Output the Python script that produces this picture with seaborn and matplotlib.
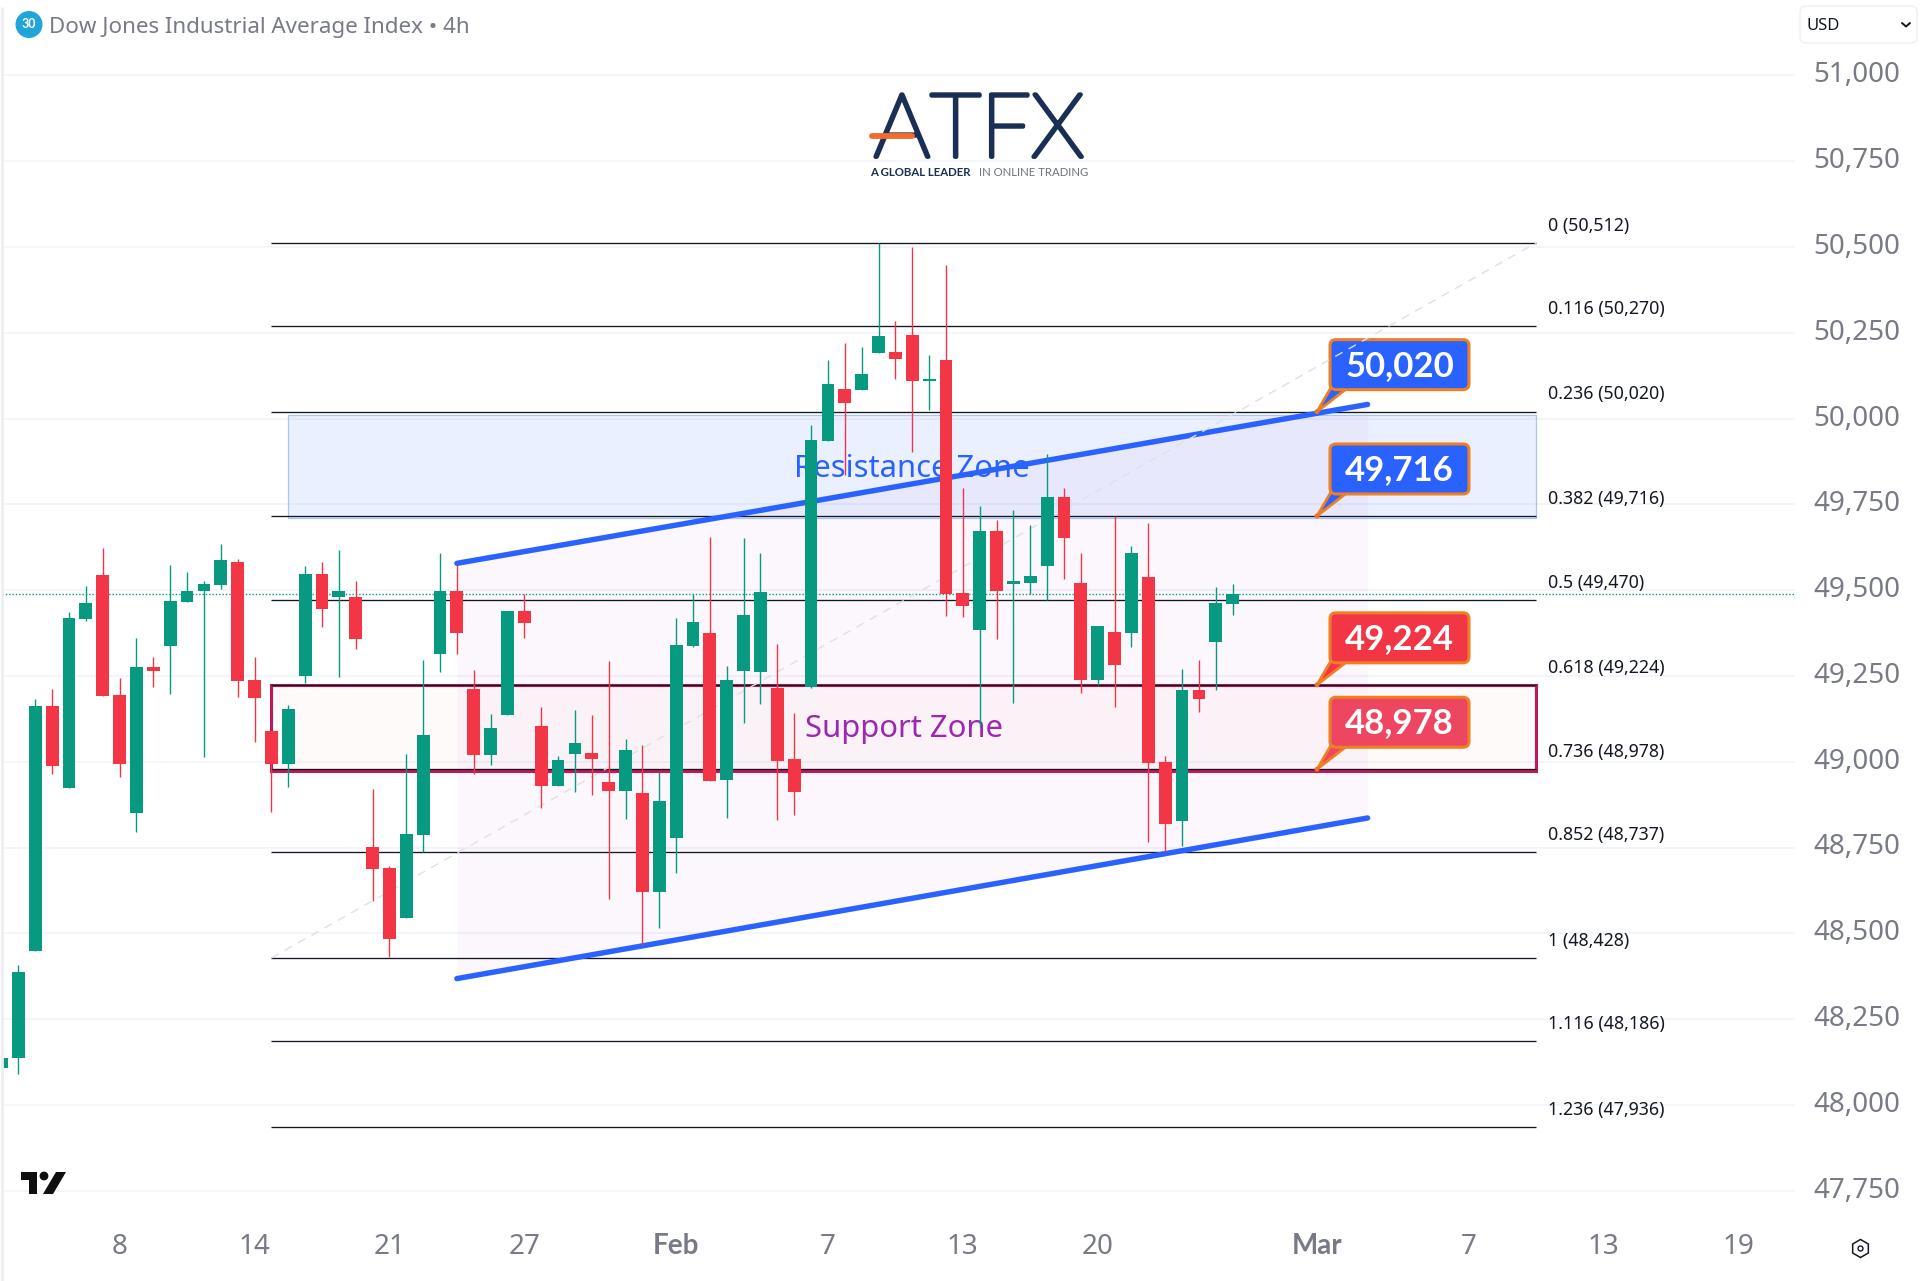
import numpy as np
import pandas as pd
import matplotlib
matplotlib.use("Agg")
import matplotlib.pyplot as plt
import matplotlib.patheffects as pe
import seaborn as sns
from matplotlib.patches import FancyBboxPatch, Polygon, Circle, Rectangle
from matplotlib.lines import Line2D
from matplotlib.transforms import IdentityTransform, Affine2D

# ---------- data ----------
opens = [48107,48136,48449,49162,48924,49416,49544,49194,48850,49276,49337,49465,49497,49515,49582,49238,49089,48993,
         49250,49547,49480,49480,48751,48690,48545,48786,49314,49497,49212,49019,49136,49439,49104,48929,49022,49025,
         48941,48915,48909,48620,48778,49337,49375,48947,49264,49261,49215,49008,49218,49935,50086,50083,50191,50194,
         50243,50110,50171,49492,49384,49672,49518,49521,49570,49771,49521,49238,49378,49375,49538,49000,48827,49209,
         49349,49459]
highs = [48140,48408,49183,49212,49435,49512,49623,49244,49360,49305,49573,49553,49526,49634,49590,49305,49089,49164,
         49570,49582,49617,49526,48920,48696,49022,49296,49608,49573,49267,49139,49439,49489,49159,49017,49151,49136,
         49293,49066,49049,48971,49419,49489,49655,49279,49652,49608,49343,49142,49981,50171,50220,50208,50511,50284,
         50500,50185,50447,49798,49745,49704,49733,49690,49897,49798,49608,49395,49716,49628,49696,49017,49270,49296,
         49509,49518]
lows = [48089,48089,48449,48964,48924,49410,49191,48956,48795,49218,49197,49465,49014,49503,49188,49057,48853,48926,
        49229,49392,49247,49328,48594,48430,48545,48738,49261,49314,48964,48990,49136,49360,48865,48929,48912,48903,
        48600,48833,48466,48515,48676,49334,48944,48836,49113,49168,48830,48845,49215,49935,49836,50083,50191,50115,
        49903,50025,49425,49422,49100,49358,49171,49489,49471,49532,49200,49223,49159,49334,48766,48738,48754,49145,
        49209,49427]
closes = [48136,48388,49162,48988,49419,49462,49191,48993,49276,49264,49468,49497,49518,49588,49235,49186,48993,49153,
          49547,49445,49497,49357,48687,48483,48789,49078,49497,49375,49019,49098,49439,49404,48929,49005,49054,49008,
          48915,49034,48620,48885,49340,49407,48944,49238,49427,49494,49002,48912,49938,50101,50045,50130,50241,50174,
          50110,50115,49489,49454,49672,49497,49527,49541,49771,49652,49238,49395,49282,49608,48996,48818,49209,49183,
          49462,49489]
last_price = 49489

y_ticks = [47750,48000,48250,48500,48750,49000,49250,49500,49750,50000,50250,50500,50750,51000]
x_tick_bars = [7,15,23,31,40,49,57,65,78,87,95,103]
x_tick_labels = ["8","14","21","27","Feb","7","13","20","Mar","7","13","19"]
fib_ratios = ["0","0.116","0.236","0.382","0.5","0.618","0.736","0.852","1","1.116","1.236"]
fib_prices = [50512,50270,50020,49716,49470,49224,48978,48737,48428,48186,47936]
callout_prices = [50020,49716,49224,48978]
callout_labels = ["50,020","49,716","49,224","48,978"]
channel_bars = [27,81]
channel_upper = [49578,50041]
channel_lower = [48368,48836]
resistance_zone = [49709,50010]
support_zone = [48972,49224]

# ---------- style / layout ----------
W, H = 1922, 1281
GREEN, RED, BLUE = "#089981", "#F23645", "#2962FF"
GREY = "#787B86"
FONT = "Noto Sans"
sns.set_theme(style="white")
plt.rcParams["font.family"] = [FONT, "DejaVu Sans"]

X0, BAR = 1.535, 16.865          # pixel of bar 0, pixels per bar
Y49K, PXU = 761.7, 0.3432        # pixel of 49,000, pixels per index point
AL, AR, AT, AB = 2, 1795, 0, 1232  # axes frame in pixels

fig = plt.figure(figsize=(W/100, H/100), dpi=100, facecolor="white")
ax = fig.add_axes([AL/W, 1-AB/H, (AR-AL)/W, (AB-AT)/H])
PX = IdentityTransform()
fy = lambda y: H - y

# ---------- candles ----------
df = pd.DataFrame({"bar": np.arange(len(opens)), "o": opens, "h": highs, "l": lows, "c": closes})
df["top"] = df[["o", "c"]].max(axis=1)
df["bot"] = df[["o", "c"]].min(axis=1)
df["body"] = (df["top"] - df["bot"]).clip(lower=6)
df["up"] = df["c"] >= df["o"]
for flag, col in [(True, GREEN), (False, RED)]:
    sub = df[df["up"] == flag]
    wick = sub.melt(id_vars="bar", value_vars=["l", "h"], value_name="price").sort_values("bar")
    sns.lineplot(data=wick, x="bar", y="price", units="bar", estimator=None, sort=False,
                 color=col, lw=1.0, zorder=5, ax=ax, solid_capstyle="butt")
    sns.barplot(data=sub, x="bar", y="body", bottom=sub["bot"].values, native_scale=True,
                color=col, saturation=1, width=0.76, errorbar=None, linewidth=0, zorder=5, ax=ax)

ax.set_xlim((AL-X0)/BAR, (AR-X0)/BAR)
ax.set_ylim(49000-(AB-Y49K)/PXU, 49000+(Y49K-AT)/PXU)
ax.set_xlabel(""); ax.set_ylabel("")

# ---------- axes ----------
for s in ["top", "right", "bottom", "left"]:
    ax.spines[s].set_visible(False)
fig.add_artist(Line2D([1.5, 1.5], [0, H-8], color="#ECEEF2", lw=2.0, transform=PX))
ax.yaxis.tick_right()
ax.set_yticks(y_ticks, [f"{v:,}" for v in y_ticks])
ax.set_xticks(x_tick_bars, x_tick_labels)
ax.tick_params(axis="y", length=0, pad=13.5, labelsize=20, labelcolor=GREY)
ax.tick_params(axis="x", length=0, pad=1, labelsize=20, labelcolor=GREY)
for t in ax.get_yticklabels():
    t.set_transform(t.get_transform() + Affine2D().translate(0, 3.5))
for t in ax.get_xticklabels():
    if t.get_text() in ("Feb", "Mar"):
        t.set_family("Lato")
        t.set_fontweight("bold")
ax.grid(False)
ax.yaxis.grid(True, color="#F0F3FA", lw=1.2)
ax.set_axisbelow(True)

# ---------- drawings ----------
ax.fill_between(channel_bars, channel_lower, channel_upper, color="#9C27B0", alpha=0.035, lw=0, zorder=1)
ax.add_patch(Rectangle((17, resistance_zone[0]), 74, resistance_zone[1]-resistance_zone[0],
                       fc=(0.16, 0.38, 1.0, 0.095), ec="#A9C6F2", lw=0.9, zorder=1))
ax.add_patch(Rectangle((16, support_zone[0]), 75, support_zone[1]-support_zone[0],
                       fc=(0.95, 0.21, 0.27, 0.025), ec="#C2185B", lw=2.2, zorder=1.5))
ax.hlines(fib_prices, 16, 91, color="#131722", lw=0.95, zorder=2)
for r, p in zip(fib_ratios, fib_prices):
    ax.annotate(f"{r} ({p:,})", xy=(91, p), xytext=(8.5, 12.4), textcoords="offset points",
                va="center", ha="left", fontsize=12.8, color="#131722", annotation_clip=False)
ax.plot(channel_bars, channel_upper, color=BLUE, lw=3.9, solid_capstyle="round", zorder=3)
ax.plot(channel_bars, channel_lower, color=BLUE, lw=3.9, solid_capstyle="round", zorder=3)
ax.axhline(last_price, color=GREEN, lw=1.0, ls=(0, (1, 1.4)), zorder=2)
ax.text(54, 49853, "Resistance Zone", color=BLUE, fontsize=22.3, ha="center", va="center", zorder=2.5)
ax.text(53.5, 49094, "Support Zone", color="#9C27B0", fontsize=22.3, ha="center", va="center", zorder=2.5)

# callouts hang off the price level
ORANGE = "#F07F23"
for p, lab, fc in zip(callout_prices, callout_labels, [BLUE, BLUE, RED, "#EE4560"]):
    tx, ty = ax.transData.transform((78, p))
    bx, by, bw, bh = tx+13, ty+22, 139, 50
    ax.add_patch(Polygon([(tx, ty), (bx+1, by+2), (bx+18, by+2)], closed=True, fc=fc, ec=ORANGE, lw=2,
                         transform=PX, zorder=4, clip_on=False))
    ax.add_patch(Circle((tx, ty), 2.5, fc="#E8742C", ec="none", transform=PX, zorder=4, clip_on=False))
    ax.add_patch(FancyBboxPatch((bx, by), bw, bh, boxstyle="round,pad=0,rounding_size=6", fc=fc, ec=ORANGE,
                                lw=2.2, transform=PX, zorder=4.1, clip_on=False))
    ax.text(bx+bw/2, by+bh/2+2, lab, color="white", fontsize=25, fontweight="bold", family="Lato", ha="center",
            va="center_baseline", transform=PX, zorder=4.2)

# fib diagonal
ax.plot([16, 91], [fib_prices[8], fib_prices[0]], color="#E0E0E5", lw=1.0, ls=(0, (6, 5)), zorder=4.5)

# ---------- header ----------
ax.add_patch(Circle((29, fy(24.5)), 13.5, fc="#1FA5D8", ec="none", transform=PX, zorder=6, clip_on=False))
ax.text(29, fy(24.5), "30", color="white", fontsize=9, fontweight="bold", family="Lato", ha="center", va="center", transform=PX, zorder=7)
ax.text(49, fy(27), "Dow Jones Industrial Average Index • 4h", color=GREY, fontsize=16.1, ha="left", va="center",
        transform=PX, zorder=7)
ax.add_patch(FancyBboxPatch((1800, fy(43)), 117, 37, boxstyle="round,pad=0,rounding_size=6", fc="white", ec="#EEF0F3",
                            lw=1, transform=PX, clip_on=False, zorder=6))
ax.text(1806, fy(26.5), "USD", color="#131722", fontsize=12, ha="left", va="center", transform=PX, zorder=7, clip_on=False)
fig.add_artist(Line2D([1902, 1906, 1910], [fy(23), fy(26.5), fy(23)], color="#131722", lw=1.4, transform=PX))

# ---------- logo ----------
NAVY = "#1B2F55"
ax.text(979, fy(133), "ATFX", color=NAVY, fontsize=64, family="Lato", fontweight="light", ha="center", va="center",
        transform=PX, zorder=6, path_effects=[pe.withStroke(linewidth=3.2, foreground=NAVY, capstyle="round")])
fig.add_artist(Line2D([872, 912], [fy(136), fy(136)], color="#F26B2B", lw=4.2, solid_capstyle="round", transform=PX, zorder=8))
ax.text(870, fy(173), "A GLOBAL LEADER", color=NAVY, fontsize=8.2, fontweight="bold", family="Lato", ha="left",
        va="center", transform=PX, zorder=6)
ax.text(1088, fy(173), "IN ONLINE TRADING", color="#6D7480", fontsize=8.2, family="Lato", ha="right", va="center",
        transform=PX, zorder=6)

# ---------- TradingView mark and settings ----------
mark = "#0F0F0F"
ax.add_patch(Polygon([(21, fy(1172)), (37, fy(1172)), (37, fy(1194)), (29, fy(1194)), (29, fy(1180)), (21, fy(1180))],
                     closed=True, fc=mark, ec="none", transform=PX, zorder=7))
ax.add_patch(Circle((44, fy(1176)), 4.4, fc=mark, ec="none", transform=PX, zorder=7))
ax.add_patch(Polygon([(56, fy(1172)), (66, fy(1172)), (53, fy(1194)), (43, fy(1194))], closed=True, fc=mark, ec="none",
                     transform=PX, zorder=7))
fig.add_artist(Line2D([1860], [fy(1248)], marker="h", ms=13, mfc="white", mec="#131722", mew=1.1, transform=PX))
fig.add_artist(Line2D([1860], [fy(1248)], marker="o", ms=3.6, mfc="white", mec="#131722", mew=1.0, transform=PX))

fig.savefig("out.png", dpi=100, facecolor="white")
